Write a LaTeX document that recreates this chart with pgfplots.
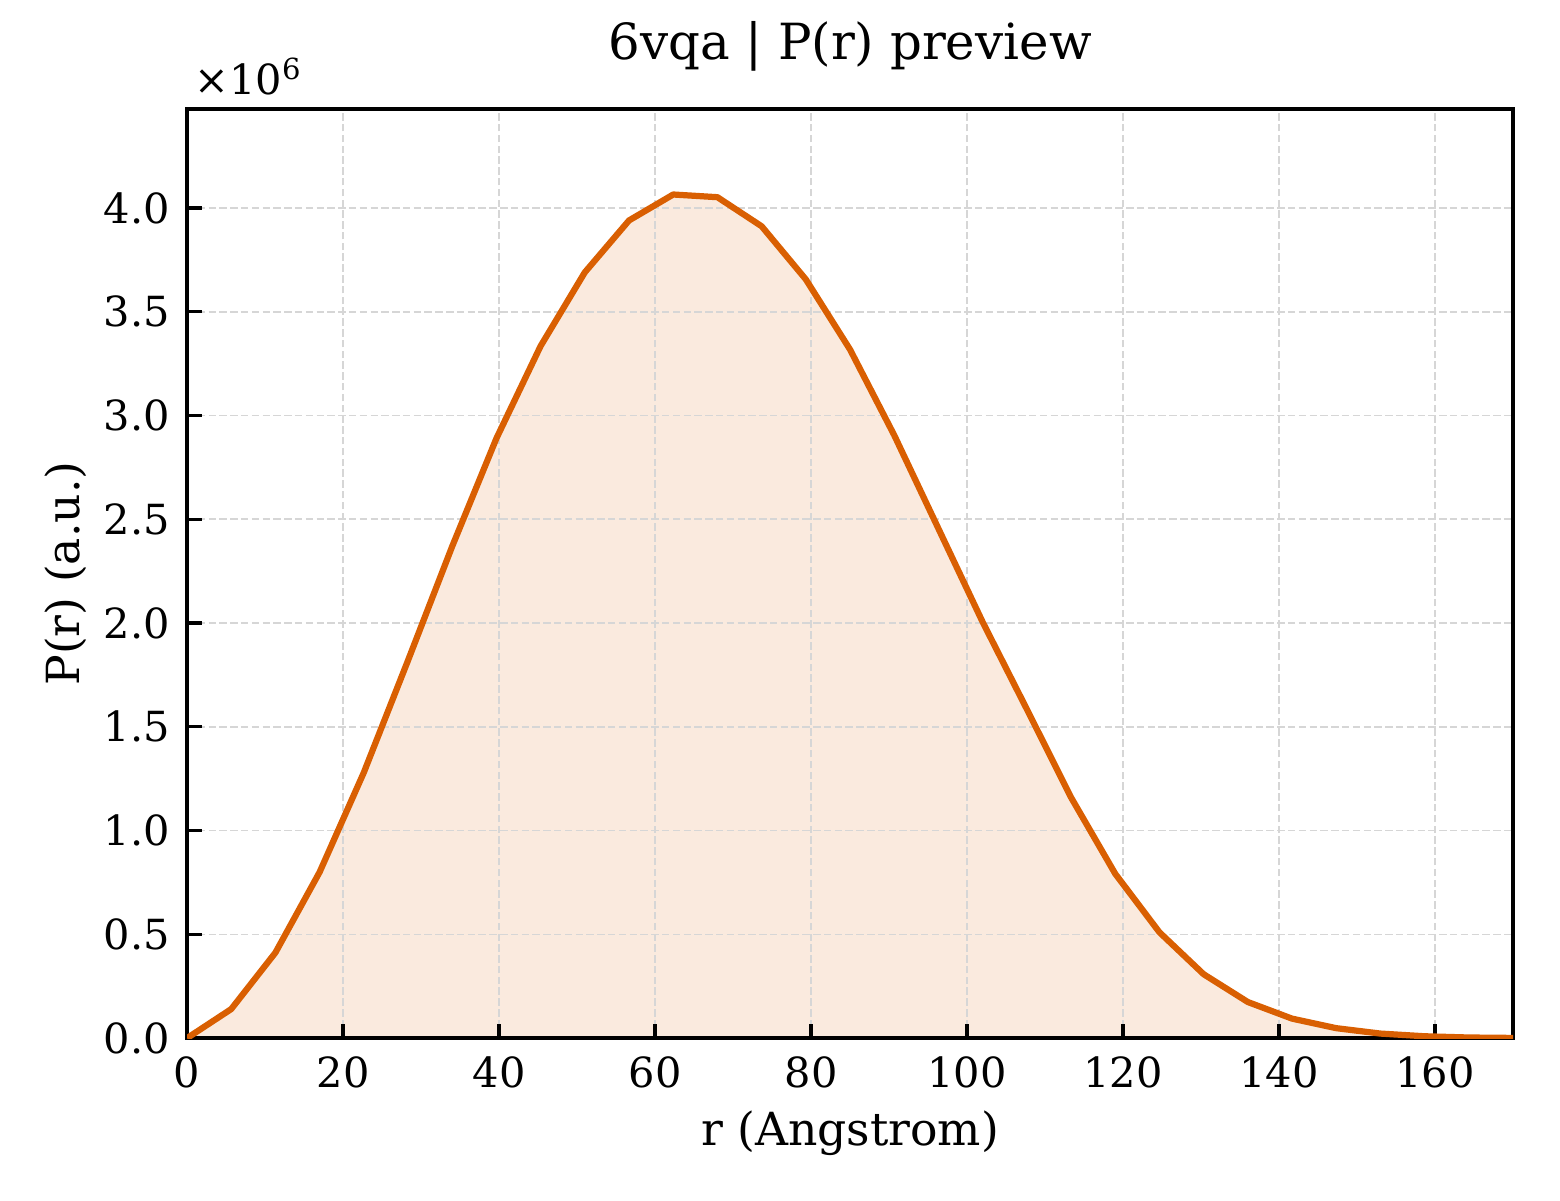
\documentclass[border=0pt]{standalone}
\usepackage{fontspec}
\setmainfont{DejaVu Serif}
\usepackage{pgfplots}
\pgfplotsset{compat=1.18}
\usetikzlibrary{calc}
\definecolor{pr}{HTML}{D95F02}
\definecolor{gridc}{HTML}{D6D6D6}

\begin{document}
\begin{tikzpicture}
\begin{axis}[
  name=ax,
  set layers,
  scale only axis,
  width=319.4pt, height=223.8pt,
  xmin=0, xmax=170,
  ymin=0, ymax=4.477,
  xtick={0,20,...,160},
  ytick={0,0.5,...,4.0},
  xtick pos=left, ytick pos=left,
  tick align=inside,
  major tick length=3.5pt,
  tick style={line width=0.8pt, black},
  axis line style={line width=0.8pt},
  grid=major,
  major grid style={line width=0.4pt, gridc, dash pattern=on 1.8pt off 0.8pt},
  /pgf/number format/assume math mode=true,
  ticklabel style={font=\fontsize{10}{12}\selectfont},
  yticklabel style={/pgf/number format/fixed, /pgf/number format/fixed zerofill, /pgf/number format/precision=1, anchor=east, inner sep=0pt, xshift=-3.9pt},
  xticklabel style={anchor=base, inner sep=0pt, yshift=-11.8pt},
  xlabel={r (Angstrom)},
  ylabel={P(r) (a.u.)},
  label style={font=\fontsize{11}{13}\selectfont},
  xlabel style={at={(rel axis cs:0.5,0)}, anchor=base, inner sep=0pt, yshift=-25.8pt},
  ylabel style={at={($(rel axis cs:0,0.5)+(-26pt,0)$)}, anchor=base, inner sep=0pt},
  title={6vqa | P(r) preview},
  title style={font=\fontsize{12}{14}\selectfont, at={(rel axis cs:0.5,1)}, anchor=base, inner sep=0pt, yshift=6pt},
]
\addplot[on layer=axis background, draw=none, fill=pr, fill opacity=0.13] table {
x y
0.000 0.000
5.667 0.140
11.333 0.412
17.000 0.800
22.667 1.280
28.333 1.820
34.000 2.370
39.667 2.890
45.333 3.335
51.000 3.690
56.667 3.940
62.333 4.065
68.000 4.052
73.667 3.912
79.333 3.656
85.000 3.318
90.667 2.905
96.333 2.455
102.000 2.005
107.667 1.585
113.333 1.160
119.000 0.792
124.667 0.510
130.333 0.308
136.000 0.174
141.667 0.094
147.333 0.048
153.000 0.022
158.667 0.009
164.333 0.003
170.000 0.001
} \closedcycle;
\addplot[draw=pr, line width=1.5pt, line join=round] table {
x y
0.000 0.000
5.667 0.140
11.333 0.412
17.000 0.800
22.667 1.280
28.333 1.820
34.000 2.370
39.667 2.890
45.333 3.335
51.000 3.690
56.667 3.940
62.333 4.065
68.000 4.052
73.667 3.912
79.333 3.656
85.000 3.318
90.667 2.905
96.333 2.455
102.000 2.005
107.667 1.585
113.333 1.160
119.000 0.792
124.667 0.510
130.333 0.308
136.000 0.174
141.667 0.094
147.333 0.048
153.000 0.022
158.667 0.009
164.333 0.003
170.000 0.001
};
\end{axis}
\node[anchor=base west, inner sep=0pt, font=\fontsize{10}{12}\selectfont] at ($(ax.north west)+(1.6pt,3.4pt)$) {×10\textsuperscript{6}};
\pgfresetboundingbox
\path[use as bounding box] ($(ax.south west)+(-45.05pt,-39.03pt)$) rectangle ($(ax.north east)+(11.32pt,26.26pt)$);
\end{tikzpicture}
\end{document}
